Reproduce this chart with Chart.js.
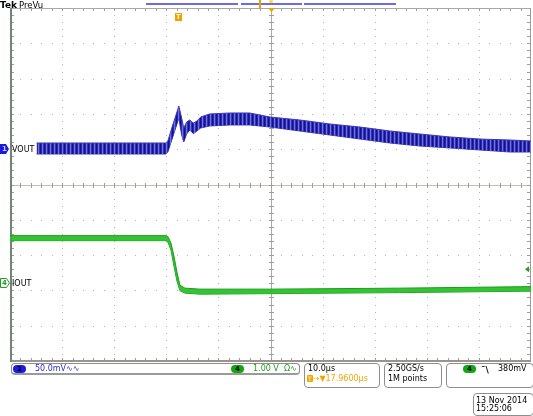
<!DOCTYPE html>
<html><head><meta charset="utf-8">
<script src="https://cdn.jsdelivr.net/npm/chart.js@4.4.0/dist/chart.umd.min.js"></script>
<style>
html,body{margin:0;padding:0;background:#fff;}
#wrap{position:relative;width:533px;height:416px;overflow:hidden;font-family:"DejaVu Sans",sans-serif;}
canvas{position:absolute;left:0;top:0;}
.t{position:absolute;white-space:nowrap;font-size:8px;line-height:10px;color:#000;}
.box{position:absolute;border:1px solid #8e8e8e;border-radius:4px;box-sizing:border-box;}
.pill{position:absolute;height:8px;border-radius:4px;font-size:7px;line-height:8px;text-align:center;color:#000;font-weight:bold;}
.bar{position:absolute;height:2px;background:#6c6ce0;top:3px;}
</style></head>
<body><div id="wrap">
<canvas id="c" width="533" height="416"></canvas>
<div class="t" style="left:0;top:0;font-size:9px;font-weight:bold;">Tek</div>
<div class="t" style="left:19px;top:0;font-size:8.5px;">PreVu</div>
<div class="bar" style="left:146px;width:92px;"></div>
<div class="bar" style="left:241px;width:61px;"></div>
<div class="bar" style="left:304px;width:92px;"></div>
<div style="position:absolute;left:259px;top:0;width:2px;height:9px;background:#f0a000;"></div>
<div style="position:absolute;left:269px;top:0;width:4px;height:3px;border-radius:2px;background:#f4e04a;"></div>

<div class="box" style="left:11px;top:363px;width:289px;height:12px;border-bottom:2px solid #9a9a9a;"></div>
<div class="pill" style="left:13px;top:365px;width:13px;background:#1c1ce0;">1</div>
<div class="t" style="left:35px;top:364px;color:#2c2cc8;">50.0mV∿∿</div>
<div class="pill" style="left:231px;top:365px;width:13px;background:#10a810;">4</div>
<div class="t" style="left:253px;top:364px;color:#1ea01e;">1.00 V&nbsp; Ω∿</div>

<div class="box" style="left:304px;top:363px;width:76px;height:25px;"></div>
<div class="t" style="left:308px;top:364px;">10.0µs</div>
<div class="t" style="left:307px;top:374px;color:#f0a800;"><span style="display:inline-block;background:#f0a800;color:#fff;font-size:6px;line-height:7px;padding:0 1px;border-radius:1px;">T</span>→▼17.9600µs</div>

<div class="box" style="left:384px;top:363px;width:58px;height:25px;"></div>
<div class="t" style="left:388px;top:364px;">2.50GS/s</div>
<div class="t" style="left:388px;top:374px;">1M points</div>

<div class="box" style="left:446px;top:363px;width:88px;height:25px;"></div>
<div class="pill" style="left:463px;top:365px;width:13px;background:#10a810;">4</div>
<div class="t" style="left:481px;top:365px;font-size:9px;font-weight:bold;">ˉ\</div>
<div class="t" style="left:498px;top:364px;">380mV</div>

<div class="box" style="left:473px;top:393px;width:61px;height:23px;"></div>
<div class="t" style="left:476px;top:396px;">13 Nov 2014</div>
<div class="t" style="left:476px;top:404px;">15:25:06</div>
</div>
<script>
// ---- horizontal / vertical settings ----
const timePerDivUs = 10;
const timeLeftUs = -32.2;      // time at left graticule edge (trigger at 0)
const divisionsX = 10;
const divisionsY = 10;
const triggerLevelV = 0.38;

// ---- VOUT (CH1, 50 mV/div, position +1.0 div) ----
const voutScaleMvPerDiv = 50;
const voutPositionDiv = 1.0;
const voutTimeUs   = [-27.1,-15.0,-2.3,-1.9,-1.15,-0.4,0.2,0.75,1.15,1.7,2.3,3.0,3.7,4.4,6.1,10.0,13.8,17.7,23.4,29.2,35.0,40.7,46.5,52.3,58.0,63.8,67.8];
const voutUpperMv  = [8.8,8.8,8.8,11.6,30.0,47.0,61.2,44.2,30.0,38.5,41.4,37.0,40.0,45.6,49.9,51.3,51.3,45.6,41.4,35.7,31.4,25.8,21.5,17.3,14.4,13.0,11.6];
const voutLowerMv  = [-6.8,-6.8,-6.8,-4.0,13.0,30.0,44.2,20.1,10.2,21.5,27.2,22.0,26.0,30.0,32.9,34.3,34.3,31.4,25.8,20.1,14.4,8.8,4.5,1.7,-1.1,-4.0,-4.0];

// ---- IOUT (CH4, 1.00 V/div, position -2.78 div) ----
const ioutScaleVPerDiv = 1.0;
const ioutPositionDiv = -2.78;
const ioutTimeUs  = [-32.2,-2.26,-1.88,-1.30,-0.73,-0.15,0.42,1.38,4.26,17.7,42.6,67.8];
const ioutUpperV  = [1.331,1.331,1.303,1.119,0.751,0.297,-0.071,-0.156,-0.184,-0.184,-0.156,-0.113];
const ioutLowerV  = [1.190,1.190,1.147,0.920,0.467,0.042,-0.227,-0.297,-0.326,-0.312,-0.283,-0.241];

const toPts = (ts, vs, pos, scale) => ts.map((t, i) => ({x: t, y: pos + vs[i] / scale}));

// ripple-like texture for the VOUT persistence band (style only)
function makePattern(cols) {
  const c = document.createElement('canvas');
  c.width = cols.length; c.height = 1;
  const g = c.getContext('2d');
  cols.forEach((col, i) => { g.fillStyle = col; g.fillRect(i, 0, 1, 1); });
  return g.createPattern(c, 'repeat');
}
const blueTexture = makePattern(['#12128c', '#2626b0', '#7272d8', '#3434b8']);

const graticule = {
  id: 'graticule',
  beforeDatasetsDraw(chart) {
    const {ctx, chartArea: a, scales: {x: xs, y: ys}} = chart;
    const gx = i => xs.getPixelForValue(xs.min + i * (xs.max - xs.min) / divisionsX);
    const gy = j => ys.getPixelForValue(ys.max - j * (ys.max - ys.min) / divisionsY);
    ctx.save();
    ctx.fillStyle = '#b2b2b2';
    for (let i = 1; i < divisionsX; i++) {
      if (i === divisionsX / 2) continue;
      const px = Math.round(gx(i));
      for (let k = 1; k < divisionsY * 5; k++) ctx.fillRect(px, Math.round(gy(k / 5)), 1, 1);
    }
    for (let j = 1; j < divisionsY; j++) {
      if (j === divisionsY / 2) continue;
      const py = Math.round(gy(j));
      for (let k = 1; k < divisionsX * 5; k++) ctx.fillRect(Math.round(gx(k / 5)), py, 1, 1);
    }
    const cx = Math.round(gx(divisionsX / 2)), cy = Math.round(gy(divisionsY / 2));
    ctx.fillStyle = '#c9bfae';
    ctx.fillRect(a.left, cy, a.right - a.left, 1);
    ctx.fillStyle = '#a9a9a9';
    ctx.fillRect(cx, a.top, 1, a.bottom - a.top);
    ctx.fillStyle = '#9c9c9c';
    for (let k = 1; k < divisionsX * 5; k++) {
      const px = Math.round(gx(k / 5));
      ctx.fillRect(px, cy - 2, 1, 5);
      ctx.fillRect(px, Math.round(a.top), 1, 3);
      ctx.fillRect(px, Math.round(a.bottom) - 3, 1, 3);
    }
    for (let k = 1; k < divisionsY * 5; k++) {
      const py = Math.round(gy(k / 5));
      ctx.fillRect(cx - 2, py, 5, 1);
      ctx.fillRect(Math.round(a.left), py, 4, 1);
      ctx.fillRect(Math.round(a.right) - 4, py, 4, 1);
    }
    ctx.fillStyle = '#a4a8b0';
    ctx.fillRect(a.left, a.top, a.right - a.left, 1);
    ctx.fillStyle = '#9a9a9a';
    ctx.fillRect(a.right - 1, a.top, 1, a.bottom - a.top);
    ctx.fillStyle = '#9a958c';
    ctx.fillRect(a.left, a.bottom - 1, a.right - a.left, 2);
    ctx.fillStyle = '#748474';
    ctx.fillRect(a.left, a.top, 2, a.bottom - a.top + 1);
    ctx.restore();
  },
  afterDatasetsDraw(chart) {
    const {ctx, chartArea: a, scales: {x: xs, y: ys}} = chart;
    ctx.save();
    ctx.textBaseline = 'middle';
    let y1 = Math.round(ys.getPixelForValue(voutPositionDiv));
    ctx.fillStyle = '#1c1cd8';
    ctx.beginPath(); ctx.moveTo(0, y1 - 5); ctx.lineTo(6, y1 - 5); ctx.lineTo(9, y1); ctx.lineTo(6, y1 + 5); ctx.lineTo(0, y1 + 5); ctx.closePath(); ctx.fill();
    ctx.fillStyle = '#c8c8ff'; ctx.font = 'bold 7px "DejaVu Sans"'; ctx.fillText('1', 2, y1 + 0.5);
    ctx.font = '8px "DejaVu Sans"'; ctx.fillStyle = '#000'; ctx.fillText('VOUT', 12, y1 + 0.5);
    let y4 = Math.round(ys.getPixelForValue(ioutPositionDiv));
    ctx.fillStyle = '#fff'; ctx.strokeStyle = '#1ea01e'; ctx.lineWidth = 1;
    ctx.beginPath(); ctx.moveTo(0.5, y4 - 4.5); ctx.lineTo(6.5, y4 - 4.5); ctx.lineTo(9.5, y4); ctx.lineTo(6.5, y4 + 4.5); ctx.lineTo(0.5, y4 + 4.5); ctx.closePath(); ctx.fill(); ctx.stroke();
    ctx.fillStyle = '#1ea01e'; ctx.font = 'bold 7px "DejaVu Sans"'; ctx.fillText('4', 2, y4 + 0.5);
    ctx.font = '8px "DejaVu Sans"'; ctx.fillStyle = '#000'; ctx.fillText('IOUT', 12, y4 + 0.5);
    const tx = Math.round(xs.getPixelForValue(0));
    ctx.fillStyle = '#f0a000';
    ctx.fillRect(tx - 3, a.top + 5, 7, 8);
    ctx.fillStyle = '#fff3c0'; ctx.font = 'bold 7px "DejaVu Sans"'; ctx.textAlign = 'center';
    ctx.fillText('T', tx + 0.5, a.top + 9.5);
    const cx = Math.round(xs.getPixelForValue((xs.min + xs.max) / 2));
    ctx.fillStyle = '#f0a000';
    ctx.beginPath(); ctx.moveTo(cx - 3, a.top); ctx.lineTo(cx + 4, a.top); ctx.lineTo(cx + 0.5, a.top + 4); ctx.closePath(); ctx.fill();
    const ty = ys.getPixelForValue(ioutPositionDiv + triggerLevelV / ioutScaleVPerDiv);
    ctx.fillStyle = '#1ea01e';
    ctx.beginPath(); ctx.moveTo(a.right - 6, ty); ctx.lineTo(a.right - 2, ty - 3); ctx.lineTo(a.right - 2, ty + 3); ctx.closePath(); ctx.fill();
    ctx.restore();
  }
};

new Chart(document.getElementById('c'), {
  type: 'line',
  data: {
    datasets: [
      {label: 'VOUT max', data: toPts(voutTimeUs, voutUpperMv, voutPositionDiv, voutScaleMvPerDiv),
       borderColor: '#3a3ab8', borderWidth: 1, pointRadius: 0, fill: '+1', backgroundColor: blueTexture},
      {label: 'VOUT min', data: toPts(voutTimeUs, voutLowerMv, voutPositionDiv, voutScaleMvPerDiv),
       borderColor: '#3a3ab8', borderWidth: 1, pointRadius: 0, fill: false},
      {label: 'IOUT max', data: toPts(ioutTimeUs, ioutUpperV, ioutPositionDiv, ioutScaleVPerDiv),
       borderColor: '#1a9a1a', borderWidth: 1, pointRadius: 0, fill: '+1', backgroundColor: 'rgba(40,192,40,0.95)'},
      {label: 'IOUT min', data: toPts(ioutTimeUs, ioutLowerV, ioutPositionDiv, ioutScaleVPerDiv),
       borderColor: '#1a9a1a', borderWidth: 1, pointRadius: 0, fill: false}
    ]
  },
  options: {
    responsive: false, animation: false, devicePixelRatio: 1,
    layout: {padding: {left: 10, right: 2, top: 8, bottom: 55}},
    plugins: {legend: {display: false}, tooltip: {enabled: false}},
    scales: {
      x: {type: 'linear', min: timeLeftUs, max: timeLeftUs + divisionsX * timePerDivUs, display: false},
      y: {type: 'linear', min: -divisionsY / 2, max: divisionsY / 2, display: false}
    }
  },
  plugins: [graticule]
});
</script>
</body></html>
